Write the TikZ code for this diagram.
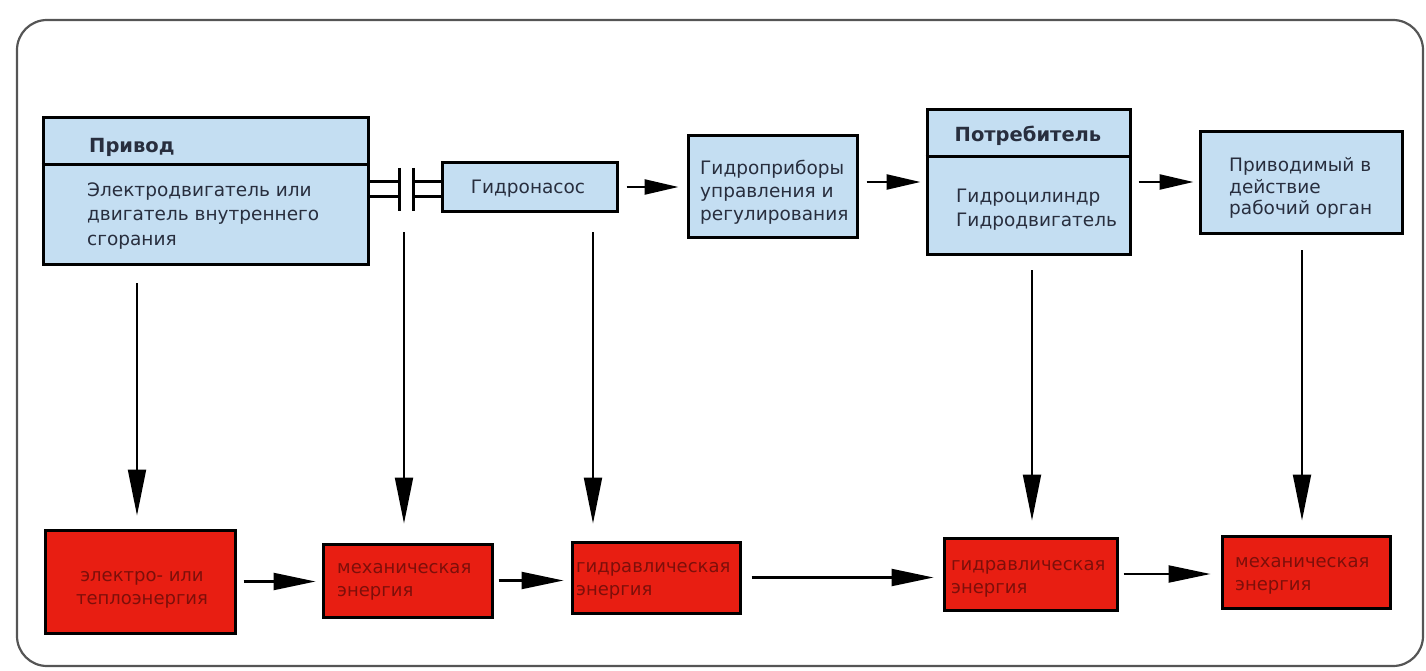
\documentclass[tikz,border=0pt]{standalone}
\usepackage{fontspec}
\setmainfont{DejaVu Sans}
\usetikzlibrary{arrows.meta,calc}
\definecolor{boxblue}{RGB}{196,222,242}
\definecolor{boxred}{RGB}{232,30,18}
\definecolor{txtblue}{RGB}{40,46,62}
\definecolor{txtred}{RGB}{125,15,10}
\definecolor{framegray}{RGB}{85,85,85}
\begin{document}
\begin{tikzpicture}[x=1pt,y=-1pt,
  bluebox/.style={draw=black,line width=3pt,fill=boxblue,rectangle,inner sep=0pt},
  redbox/.style={draw=black,line width=3pt,fill=boxred,rectangle,inner sep=0pt},
  btext/.style={text=txtblue,font=\fontsize{18.5}{24.5}\selectfont,align=left,inner sep=0pt,anchor=west},
  bhead/.style={text=txtblue,font=\bfseries\fontsize{19.5}{22}\selectfont,inner sep=0pt},
  rtext/.style={text=txtred,font=\fontsize{18}{23.5}\selectfont,align=left,inner sep=0pt,anchor=west},
  harrow/.style={line width=2.4pt,-{Triangle[length=34pt,width=15pt]}},
  barrow/.style={line width=2.2pt,-{Triangle[length=42pt,width=17pt]}},
  varrow/.style={line width=2pt,-{Triangle[length=46pt,width=18pt]}},
  coupling/.style={line width=3pt}
]
\useasboundingbox (0,0) rectangle (1426,671);
% outer frame
\draw[framegray,line width=2.2pt,rounded corners=30pt] (17,20) rectangle (1423,666);

% top row
\node[bluebox,minimum width=325pt,minimum height=146pt] (privod) at (205.5,191) {};
\draw[line width=3pt] (privod.west |- 0,165) -- (privod.east |- 0,165);
\node[bhead,anchor=west] (privodh) at (89,147) {Привод};
\node[btext] (privodt) at (87,216) {Электродвигатель или\\двигатель внутреннего\\сгорания};

\node[bluebox,minimum width=175pt,minimum height=48pt] (pump) at (529.5,187) {};
\node[btext,anchor=center] (pumpt) at (528,189) {Гидронасос};

\node[bluebox,minimum width=169pt,minimum height=101pt] (ctrl) at (772.5,186.5) {};
\node[btext,font=\fontsize{18.5}{23}\selectfont] (ctrlt) at (700,192) {Гидроприборы\\управления и\\регулирования};

\node[bluebox,minimum width=203pt,minimum height=144pt] (cons) at (1028.5,182) {};
\draw[line width=3pt] (cons.west |- 0,157) -- (cons.east |- 0,157);
\node[bhead] (consh) at (1028,136) {Потребитель};
\node[btext] (const) at (956,209.5) {Гидроцилиндр\\Гидродвигатель};

\node[bluebox,minimum width=202pt,minimum height=101pt] (targ) at (1301,182.5) {};
\node[btext,font=\fontsize{18.5}{21.5}\selectfont] (targt) at (1229,188) {Приводимый в\\действие\\рабочий орган};

% coupling between drive and pump
\coordinate (ka) at (399,182);
\coordinate (kb) at (399,197);
\coordinate (kc) at (413,182);
\coordinate (kd) at (413,197);
\draw[coupling] (ka -| privod.east) -- (ka);
\draw[coupling] (kb -| privod.east) -- (kb);
\draw[coupling] (399,168) -- (399,211);
\draw[coupling] (413,168) -- (413,211);
\draw[coupling] (kc) -- (kc -| pump.west);
\draw[coupling] (kd) -- (kd -| pump.west);

% bottom row
\node[redbox,minimum width=190pt,minimum height=103pt] (r1) at (140,581.5) {};
\node[rtext,align=center,anchor=center] (r1t) at (142,590) {электро- или\\теплоэнергия};
\node[redbox,minimum width=169pt,minimum height=73pt] (r2) at (407.5,580.5) {};
\node[rtext] (r2t) at (337,582) {механическая\\энергия};
\node[redbox,minimum width=168pt,minimum height=71pt] (r3) at (656,577.5) {};
\node[rtext] (r3t) at (576,581) {гидравлическая\\энергия};
\node[redbox,minimum width=173pt,minimum height=72pt] (r4) at (1030.5,574) {};
\node[rtext] (r4t) at (951,579) {гидравлическая\\энергия};
\node[redbox,minimum width=168pt,minimum height=72pt] (r5) at (1306,572) {};
\node[rtext] (r5t) at (1235,576) {механическая\\энергия};

% horizontal arrows top
\draw[harrow,shorten <=8pt,shorten >=8pt] (pump.east) -- (ctrl.west |- pump.east);
\draw[harrow,shorten <=8pt,shorten >=5pt] (cons.west -| ctrl.east) -- (cons.west);
\draw[harrow,shorten <=7pt,shorten >=5pt] (cons.east) -- (targ.west |- cons.east);

% horizontal arrows bottom
\draw[barrow,shorten <=7pt,shorten >=6pt] (r1.east) -- (r2.west |- r1.east);
\draw[barrow,shorten <=5pt,shorten >=7pt] (r2.east) -- (r3.west |- r2.east);
\draw[barrow,shorten <=10pt,shorten >=9pt] (r3.east) -- (r4.west |- r3.east);
\draw[barrow,shorten <=5pt,shorten >=10pt] (r4.east) -- (r5.west |- r4.east);

% vertical arrows
\coordinate (s1) at (137,283);
\coordinate (s2) at (404,232);
\coordinate (s3) at (593,232);
\coordinate (s4) at (1032,270);
\coordinate (s5) at (1302,250);
\draw[varrow,shorten >=13pt] (s1) -- (s1 |- r1.north);
\draw[varrow,shorten >=19pt] (s2) -- (s2 |- r2.north);
\draw[varrow,shorten >=17pt] (s3) -- (s3 |- r3.north);
\draw[varrow,shorten >=16pt] (s4) -- (s4 |- r4.north);
\draw[varrow,shorten >=14pt] (s5) -- (s5 |- r5.north);
\end{tikzpicture}
\end{document}
